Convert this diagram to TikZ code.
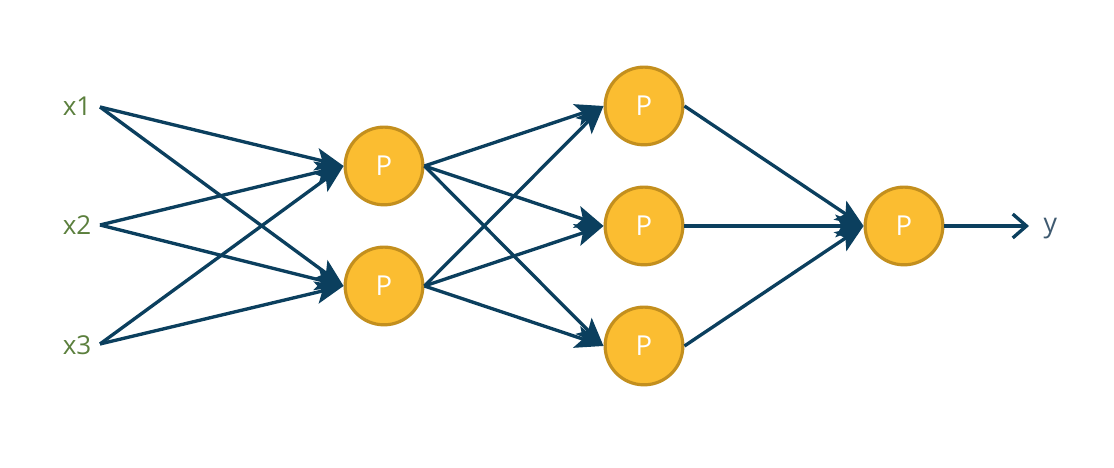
\documentclass[tikz,border=0pt]{standalone}
\usepackage{fontspec}
\setmainfont{Open Sans}
\usetikzlibrary{arrows.meta}
\definecolor{linec}{HTML}{0B3F5E}
\definecolor{pfill}{HTML}{FBBD31}
\definecolor{pdraw}{HTML}{C38F1E}
\definecolor{xcol}{HTML}{5B7F3D}
\definecolor{ycol}{HTML}{3F5A70}
\tikzset{
  pnode/.style={circle, fill=pfill, draw=pdraw, line width=0.9pt, minimum size=22.1pt, inner sep=0pt, text=white, font=\fontsize{7.8}{9}\selectfont},
  inlabel/.style={text=xcol, font=\fontsize{7.4}{8}\selectfont, inner sep=0pt},
  outlabel/.style={text=ycol, font=\fontsize{7.6}{8}\selectfont, inner sep=0pt},
  conn/.style={draw=linec, line width=0.95pt, -{Stealth[length=8pt, width=6.4pt, inset=1.8pt]}},
  outconn/.style={draw=linec, line width=0.95pt, -{Straight Barb[length=3.9pt, width=6.8pt, line width=0.95pt]}}
}
\begin{document}
\begin{tikzpicture}[x=0.01cm, y=-0.01cm]
\useasboundingbox (0,0) rectangle (1114,468);
\node[inlabel, anchor=east] (x1) at (92,106) {x1};
\node[inlabel, anchor=east] (x2) at (92,225) {x2};
\node[inlabel, anchor=east] (x3) at (92,345) {x3};
\coordinate (s1) at (100,107);
\coordinate (s2) at (100,225);
\coordinate (s3) at (100,344);
\node[pnode] (p1) at (384,166) {P};
\node[pnode] (p2) at (384,286) {P};
\node[pnode] (p3) at (644,106) {P};
\node[pnode] (p4) at (644,226) {P};
\node[pnode] (p5) at (644,346) {P};
\node[pnode] (p6) at (904,226) {P};
\coordinate (ye) at (1029,226);
\node[outlabel, anchor=base west] (y) at (1043,233) {y};
\foreach \s in {s1,s2,s3}{
  \foreach \t in {p1,p2}{
    \draw[conn] (\s) -- (\t.west);
  }
}
\foreach \s in {p1,p2}{
  \foreach \t in {p3,p4,p5}{
    \draw[conn] (\s.east) -- (\t.west);
  }
}
\foreach \s in {p3,p4,p5}{
  \draw[conn] (\s.east) -- (p6.west);
}
\draw[outconn] (p6.east) -- (ye);
\end{tikzpicture}
\end{document}
